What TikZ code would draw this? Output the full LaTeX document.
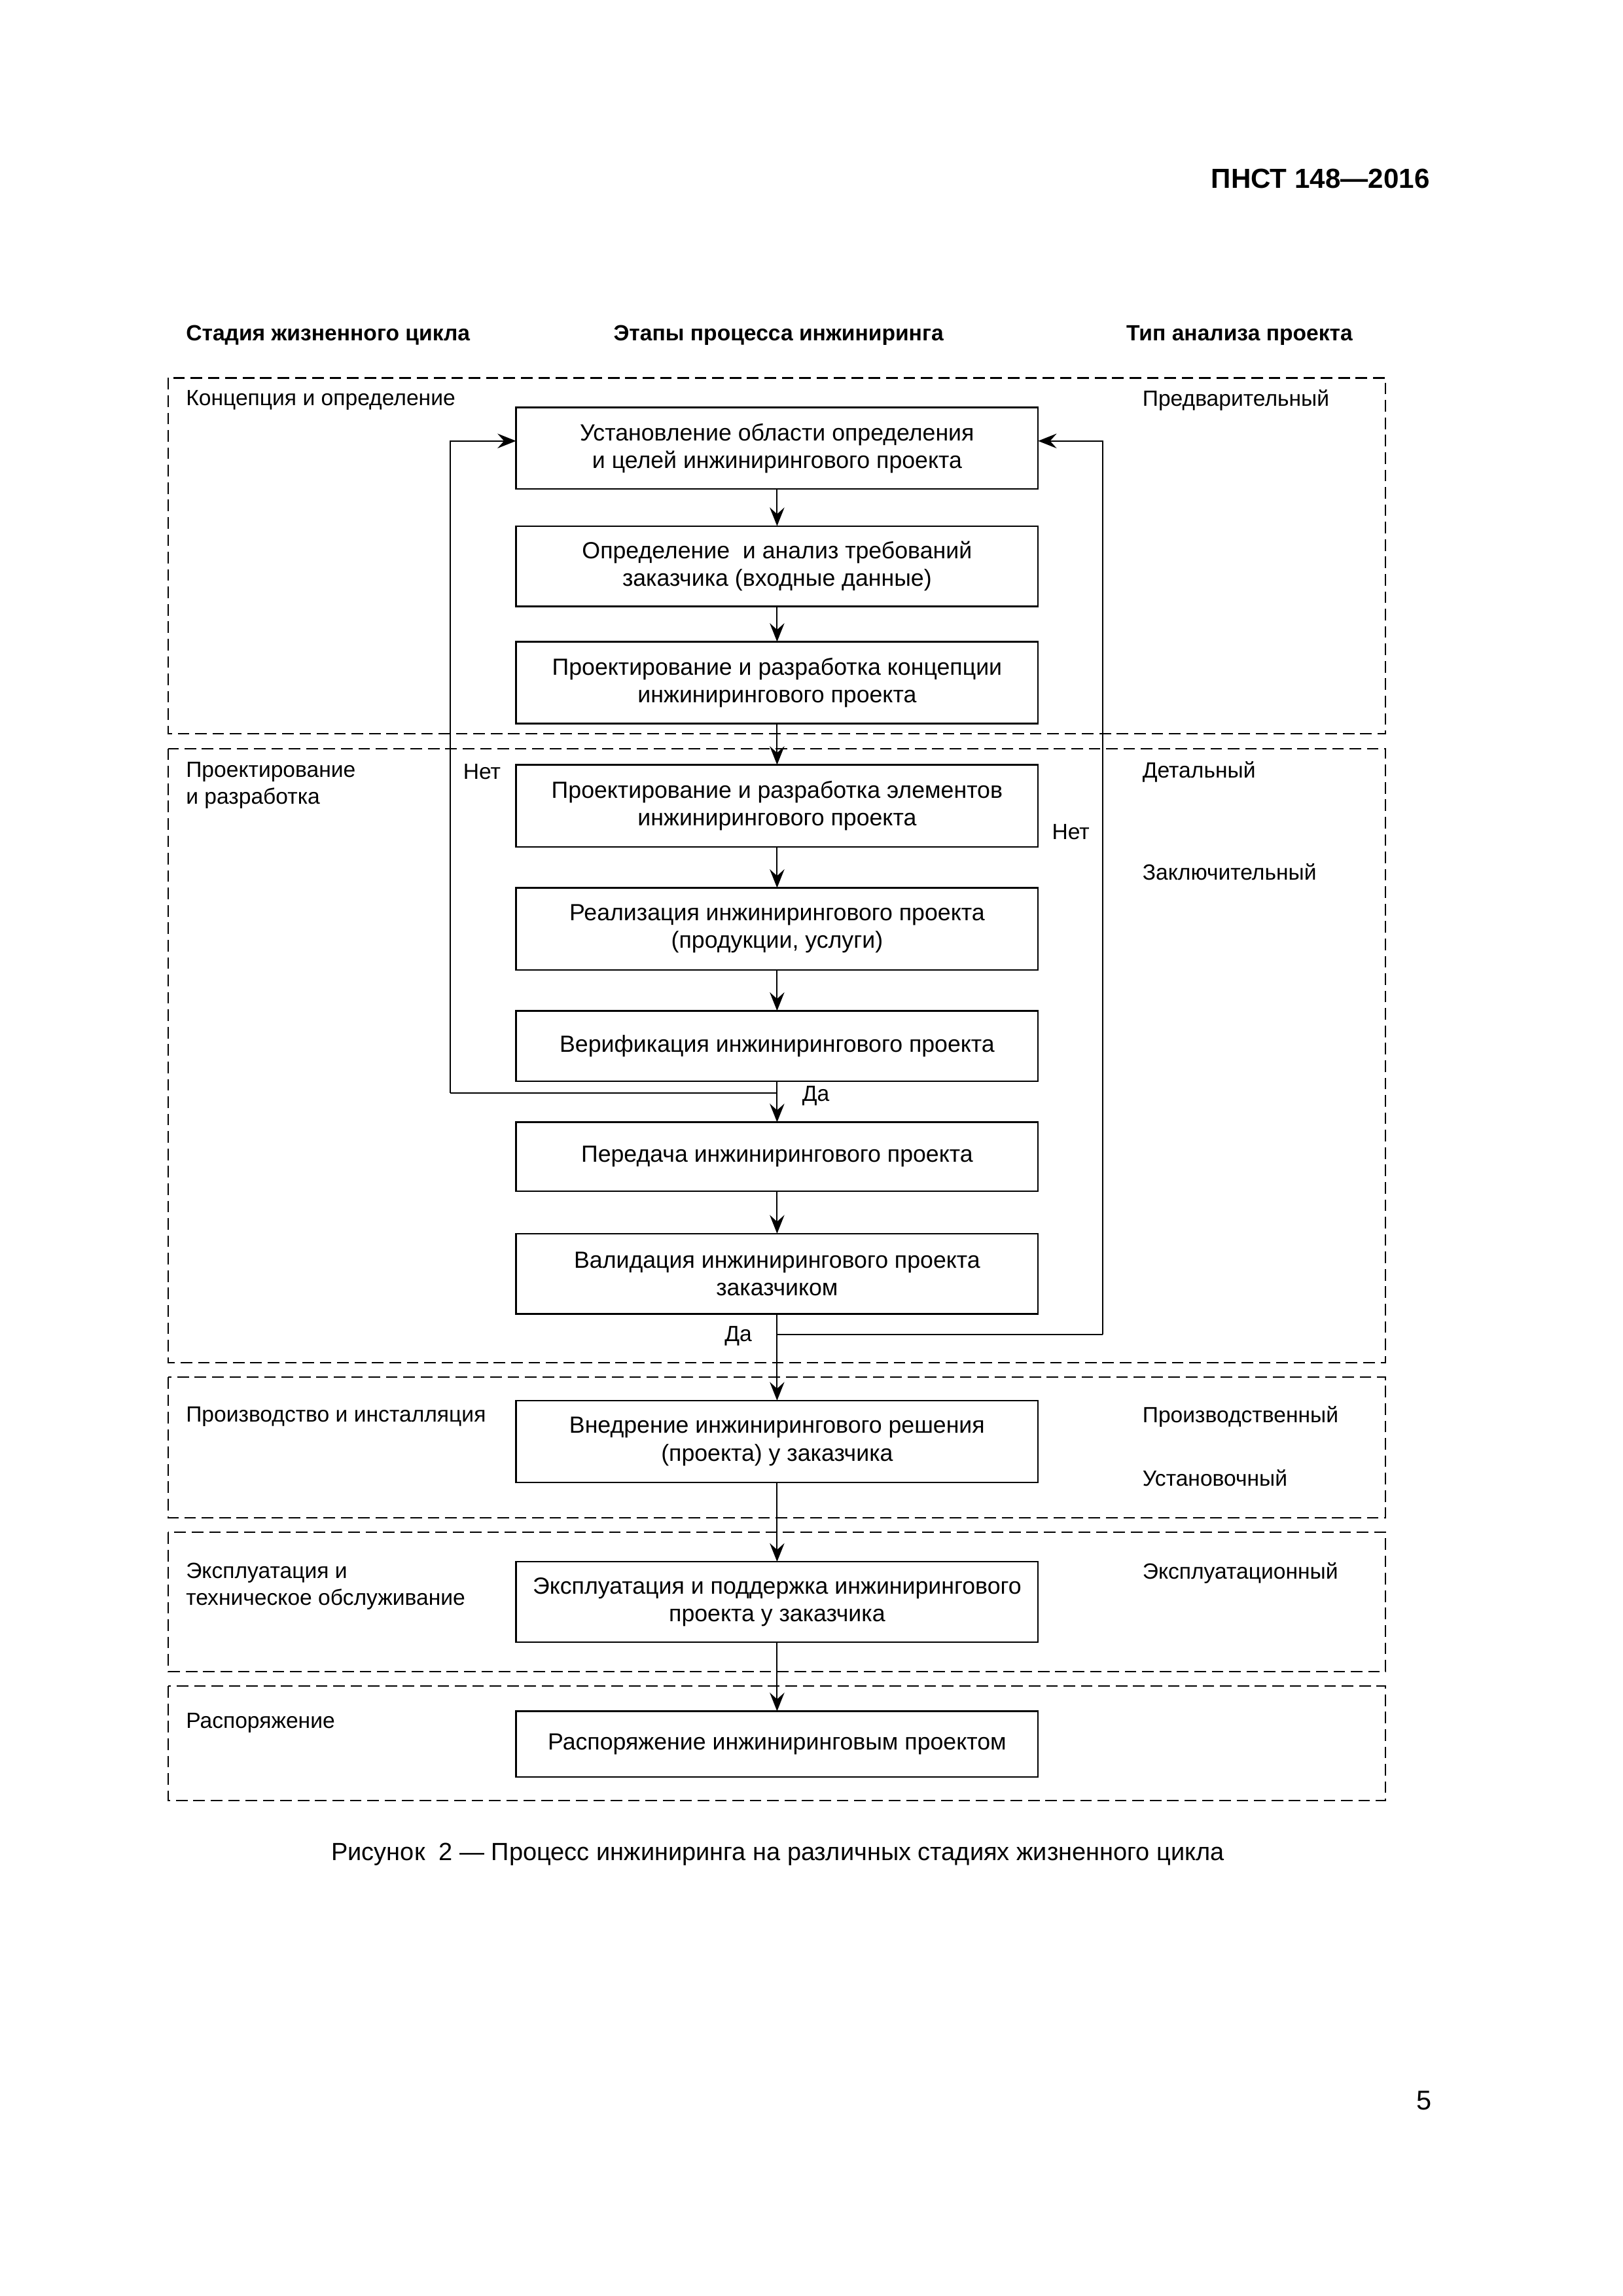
\documentclass[tikz,border=0pt]{standalone}
\usepackage{fontspec}
\setmainfont{Liberation Sans}
\usetikzlibrary{arrows.meta,calc}
\begin{document}
\begin{tikzpicture}[x=0.189531mm, y=-0.189531mm,
  every node/.style={inner sep=0pt, outer sep=0pt},
  body/.style={font=\fontsize{8.6}{10.2}\selectfont},
  small/.style={font=\fontsize{8.1}{9.8}\selectfont},
  stepbox/.style={draw, line width=0.55pt, minimum width=67.55mm, align=center, body},
  stage/.style={draw, line width=0.5pt, dash pattern=on 1.5mm off 0.75mm},
  conn/.style={line width=0.45pt, -{Stealth[length=2.4mm,width=1.9mm,inset=0.85mm]}},
  line/.style={line width=0.45pt},
  lbl/.style={anchor=west, align=left, small},
  colhdr/.style={font=\bfseries\fontsize{8.1}{10}\selectfont}
]
\fill[white] (0,0) rectangle (1108,1567.3);
\useasboundingbox (0,0) rectangle (1108,1567.3);

% header
\node[anchor=east, font=\bfseries\fontsize{10.15}{12}\selectfont] (hdr) at (976,122) {ПНСТ 148—2016};
\node[colhdr, anchor=west] (h1) at (127,229) {Стадия жизненного цикла};
\node[colhdr] (h2) at (531.5,229) {Этапы процесса инжиниринга};
\node[colhdr, anchor=west] (h3) at (769,229) {Тип анализа проекта};

% stage regions
\draw[stage] (115,258) rectangle (946,501);
\draw[stage] (115,511) rectangle (946,930);
\draw[stage] (115,940) rectangle (946,1036);
\draw[stage] (115,1046) rectangle (946,1141);
\draw[stage] (115,1151) rectangle (946,1229);

% stage labels
\node[lbl] (s1) at (127,273) {Концепция и определение};
\node[lbl] (s2) at (127,536) {Проектирование\\и разработка};
\node[lbl] (s3) at (127,967) {Производство и инсталляция};
\node[lbl] (s4) at (127,1083) {Эксплуатация и\\техническое обслуживание};
\node[lbl] (s5) at (127,1176) {Распоряжение};

% review types
\node[lbl] (r1) at (780,273) {Предварительный};
\node[lbl] (r2) at (780,527) {Детальный};
\node[lbl] (r3) at (780,595) {Заключительный};
\node[lbl] (r4) at (780,967) {Производственный};
\node[lbl] (r5) at (780,1009) {Установочный};
\node[lbl] (r6) at (780,1074) {Эксплуатационный};

% process boxes
\node[stepbox, minimum height=10.56mm] (b1) at (530.5,306) {Установление области определения\\и целей инжинирингового проекта};
\node[stepbox, minimum height=10.4mm] (b2) at (530.5,386.5) {Определение \ и анализ требований\\заказчика (входные данные)};
\node[stepbox, minimum height=10.6mm] (b3) at (530.5,466) {Проектирование и разработка концепции\\инжинирингового проекта};
\node[stepbox, minimum height=10.6mm] (b4) at (530.5,550) {Проектирование и разработка элементов\\инжинирингового проекта};
\node[stepbox, minimum height=10.6mm] (b5) at (530.5,634) {Реализация инжинирингового проекта\\(продукции, услуги)};
\node[stepbox, minimum height=9.1mm] (b6) at (530.5,714) {Верификация инжинирингового проекта};
\node[stepbox, minimum height=8.9mm] (b7) at (530.5,789.5) {Передача инжинирингового проекта};
\node[stepbox, minimum height=10.4mm] (b8) at (530.5,869.5) {Валидация инжинирингового проекта\\заказчиком};
\node[stepbox, minimum height=10.6mm] (b9) at (530.5,984) {Внедрение инжинирингового решения\\(проекта) у заказчика};
\node[stepbox, minimum height=10.4mm] (b10) at (530.5,1093.5) {Эксплуатация и поддержка инжинирингового\\проекта у заказчика};
\node[stepbox, minimum height=8.5mm] (b11) at (530.5,1190.5) {Распоряжение инжиниринговым проектом};

% main flow
\draw[conn] (b1) -- (b2);
\draw[conn] (b2) -- (b3);
\draw[conn] (b3) -- (b4);
\draw[conn] (b4) -- (b5);
\draw[conn] (b5) -- (b6);
\draw[conn] (b6) -- (b7);
\draw[conn] (b7) -- (b8);
\draw[conn] (b8) -- (b9);
\draw[conn] (b9) -- (b10);
\draw[conn] (b10) -- (b11);

% feedback loops
\coordinate (lj) at (530.5,746);
\coordinate (lc) at (307.5,746);
\coordinate (lt) at (307.5,301);
\coordinate (rj) at (530.5,911);
\coordinate (rc) at (753,911);
\coordinate (rt) at (753,301);
\draw[line] (lj) -- (lc);
\draw[conn] (lc) -- (lt) -- (b1.west |- lt);
\draw[line] (rj) -- (rc);
\draw[conn] (rc) -- (rt) -- (b1.east |- rt);

\node[small] (no1) at (329,527) {Нет};
\node[small] (no2) at (731,568) {Нет};
\node[small] (yes1) at (557,748) {Да};
\node[small] (yes2) at (504,912) {Да};

% caption and page number
\node[font=\fontsize{9.15}{11}\selectfont] (cap) at (531,1266) {Рисунок \ 2 — Процесс инжиниринга на различных стадиях жизненного цикла};
\node[font=\fontsize{10}{12}\selectfont] (pg) at (972,1434) {5};
\end{tikzpicture}
\end{document}
